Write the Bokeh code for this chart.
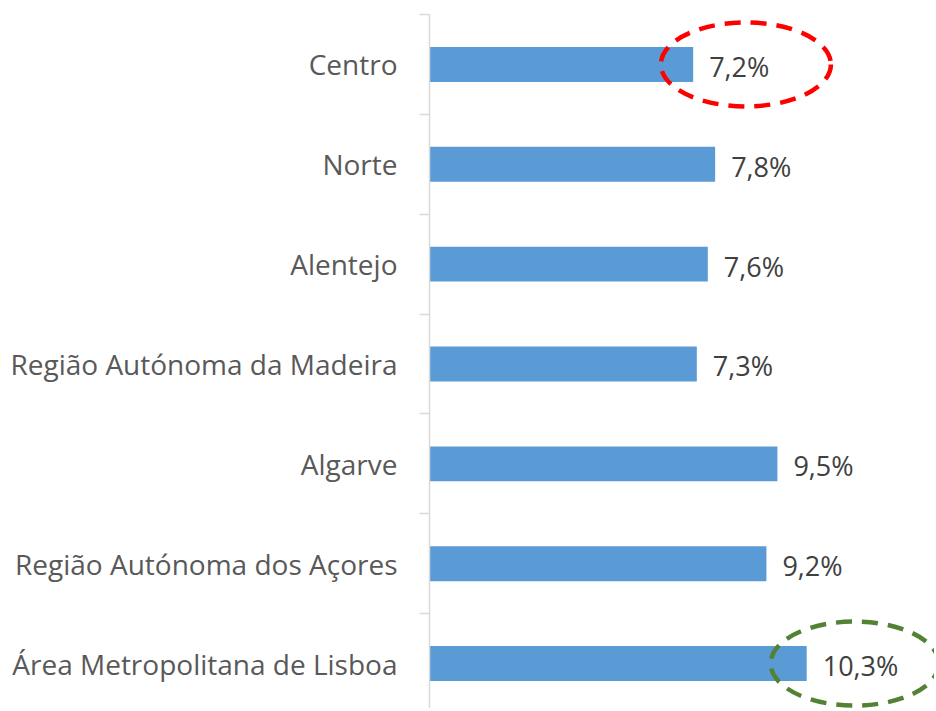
from bokeh.plotting import figure
from bokeh.models import FixedTicker, ColumnDataSource
from bokeh.core.properties import value
from bokeh.embed import file_html
from bokeh.resources import INLINE

# Data (top to bottom as in chart)
categories = ["Centro", "Norte", "Alentejo", "Região Autónoma da Madeira",
              "Algarve", "Região Autónoma dos Açores", "Área Metropolitana de Lisboa"]
values = [7.2, 7.8, 7.6, 7.3, 9.5, 9.2, 10.3]
value_labels = ["7,2%", "7,8%", "7,6%", "7,3%", "9,5%", "9,2%", "10,3%"]

n = len(categories)
ys = [n - 1 - i for i in range(n)]

src = ColumnDataSource(dict(y=ys, v=values, lab=value_labels, cat=categories))

p = figure(width=934, height=708, output_backend="svg", toolbar_location=None,
           x_range=(0, 13.79), y_range=(-0.45, n - 0.5),
           x_axis_location=None, min_border_left=429, min_border_right=0,
           min_border_top=14, min_border_bottom=0)
p.outline_line_color = None
p.xgrid.visible = False
p.ygrid.visible = False
p.background_fill_color = "white"
p.border_fill_color = "white"

p.hbar(y="y", right="v", left=0, height=0.35, source=src,
       fill_color="#5b9bd5", line_color=None)

p.text(x="v", y="y", text="lab", source=src, x_offset=16, y_offset=2,
       text_align="left", text_baseline="middle",
       text_font=value("Open Sans"), text_font_size="27px", text_color="#404040")

# Highlight ellipses around first (Centro) and last (Lisboa) labels
p.ellipse(x=[values[0] + 1.44], y=[ys[0]], width=170, height=84,
          width_units="screen", height_units="screen", fill_color=None,
          line_color="#ff0000", line_width=4.5, line_dash="16 10")
p.ellipse(x=[values[-1] + 1.31], y=[ys[-1]], width=168, height=84,
          width_units="screen", height_units="screen", fill_color=None,
          line_color="#548235", line_width=4.5, line_dash="16 10")

ax = p.yaxis[0]
ax.ticker = FixedTicker(ticks=ys, minor_ticks=[k + 0.5 for k in range(-1, n)])
ax.major_label_overrides = {y: c for y, c in zip(ys, categories)}
ax.major_tick_line_color = None
ax.major_tick_out = 0
ax.major_tick_in = 0
ax.minor_tick_line_color = "#d9d9d9"
ax.minor_tick_line_width = 1.5
ax.minor_tick_out = 10
ax.minor_tick_in = 0
ax.axis_line_color = "#d9d9d9"
ax.axis_line_width = 1.5
ax.major_label_standoff = 22
ax.major_label_text_font = "Open Sans"
ax.major_label_text_font_size = "28px"
ax.major_label_text_color = "#595959"

open("out.html", "w").write(file_html(p, INLINE))
